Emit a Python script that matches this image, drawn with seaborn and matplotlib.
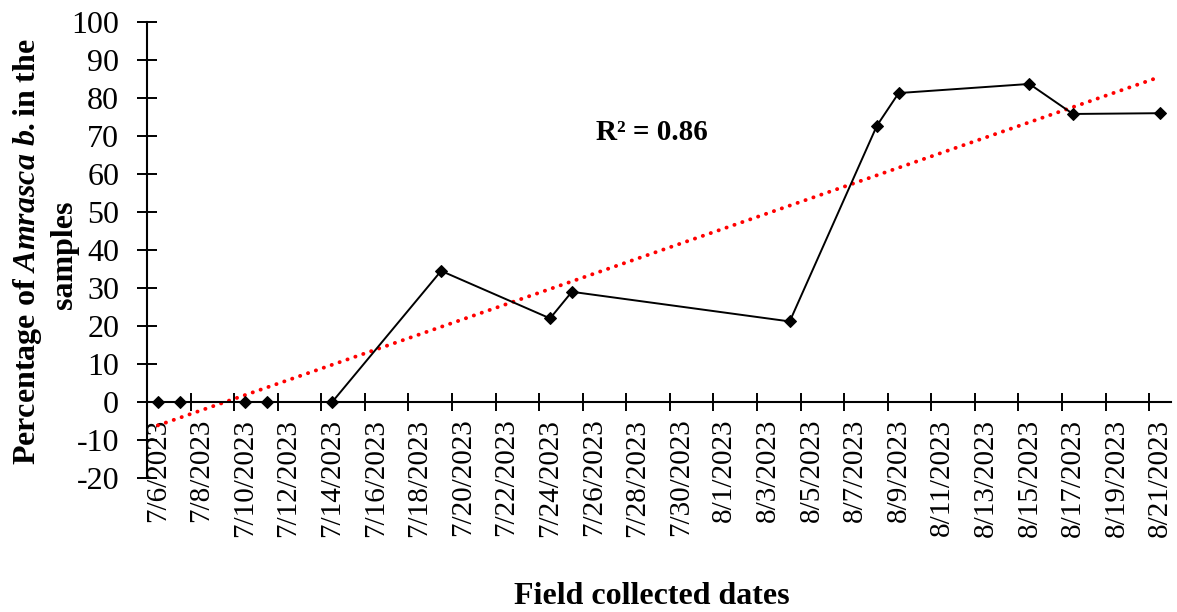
import numpy as np
import pandas as pd
import matplotlib
matplotlib.use('Agg')
import matplotlib.pyplot as plt
import seaborn as sns

# Field samples: collection date and percentage of Amrasca b.
dates = ['2023-07-06', '2023-07-07', '2023-07-10', '2023-07-11', '2023-07-14',
         '2023-07-19', '2023-07-24', '2023-07-25', '2023-08-04', '2023-08-08',
         '2023-08-09', '2023-08-15', '2023-08-17', '2023-08-21']
percent = [0, 0, 0, 0, 0, 34.5, 22.0, 29.0, 21.2, 72.7, 81.3, 83.7, 75.8, 76.0]
r2_label = 'R\u00b2 = 0.86'

start = pd.Timestamp('2023-07-06')
end = pd.Timestamp('2023-08-21')

sns.set_style('white')
plt.rcParams['font.family'] = ['Liberation Serif', 'DejaVu Serif']
plt.rcParams['text.color'] = 'black'
plt.rcParams['xtick.color'] = 'black'
plt.rcParams['ytick.color'] = 'black'
plt.rcParams['axes.unicode_minus'] = False
plt.rcParams['mathtext.fontset'] = 'custom'
plt.rcParams['mathtext.rm'] = 'Liberation Serif:bold'
plt.rcParams['mathtext.bf'] = 'Liberation Serif:bold'
plt.rcParams['mathtext.it'] = 'Liberation Serif:italic:bold'
plt.rcParams['mathtext.bfit'] = 'Liberation Serif:italic:bold'

df = pd.DataFrame({'date': pd.to_datetime(dates), 'percent': percent})
# each day is a slot on the date axis, points sit in the middle of it
df['day'] = (df['date'] - start).dt.days + 0.5
n_days = (end - start).days + 1

fig = plt.figure(figsize=(11.77, 6.12), dpi=100)
ax = fig.add_axes([147 / 1177, 1 - 478 / 612, 1024 / 1177, 456 / 612])

sns.regplot(data=df, x='day', y='percent', ax=ax, scatter=False, ci=None,
            line_kws={'color': '#ff0000', 'lw': 2.8, 'linestyle': (0, (0.05, 2.1)),
                      'dash_capstyle': 'round'})
sns.lineplot(data=df, x='day', y='percent', ax=ax, color='black', lw=1.4,
             marker='D', markersize=6.5, markeredgecolor='black')

ax.set_xlim(0, n_days)
ax.set_ylim(-20, 100)
ax.set_yticks(np.arange(-20, 101, 10))

# tick marks on slot boundaries, labels on slot centres
ax.set_xticks(np.arange(0, n_days, 2))
ax.set_xticklabels([])
label_days = pd.date_range(start, end, freq='2D')
ax.set_xticks(np.arange(0, n_days, 2) + 0.5, minor=True)
ax.set_xticklabels([f'{d.month}/{d.day}/{d.year}' for d in label_days], minor=True)

ax.tick_params(axis='x', which='major', bottom=True, direction='inout', length=13,
               width=1.4, color='black')
ax.tick_params(axis='x', which='minor', bottom=True, length=0, pad=12,
               labelrotation=90, labelsize=21, labelcolor='black')
ax.tick_params(axis='y', left=True, direction='inout', length=14, width=1.4,
               color='black', labelsize=23, pad=13, labelcolor='black')

ax.spines['top'].set_visible(False)
ax.spines['right'].set_visible(False)
ax.spines['bottom'].set_position(('data', 0))
for side in ['left', 'bottom']:
    ax.spines[side].set_linewidth(1.5)
    ax.spines[side].set_color('black')

ax.set_xlabel('')
ax.set_ylabel('')
ax.text(652 / 1177, 1 - 133 / 612, r2_label, transform=fig.transFigure,
        fontsize=21, fontweight='bold', ha='center', va='center')

fig.text(28 / 1177, 1 - 252 / 612,
         'Percentage of $\\mathbfit{Amrasca\\ b.}$in the',
         rotation=90, ha='center', va='center', fontsize=23, fontweight='bold')
fig.text(65 / 1177, 1 - 255 / 612, 'samples',
         rotation=90, ha='center', va='center', fontsize=23, fontweight='bold')
fig.text(652 / 1177, 1 - 597 / 612, 'Field collected dates',
         ha='center', va='center', fontsize=23, fontweight='bold')

fig.savefig('out.png', dpi=100)
